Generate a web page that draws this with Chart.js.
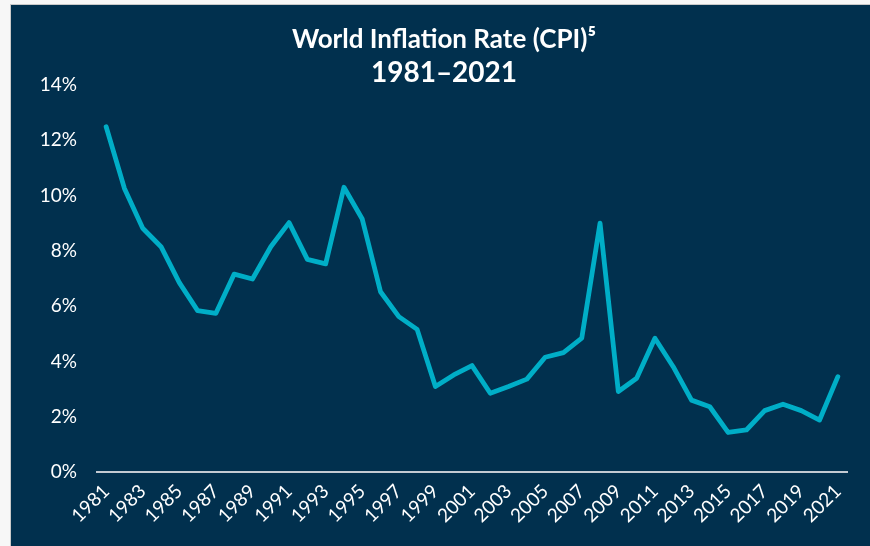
<!DOCTYPE html>
<html>
<head>
<meta charset="utf-8">
<script src="https://cdn.jsdelivr.net/npm/chart.js@4/dist/chart.umd.min.js"></script>
<style>
  html, body { margin: 0; padding: 0; background: #f7f7f7; }
  #wrap {
    position: absolute; left: 10px; top: 4px;
    border-left: 1px solid #c9c9c9; border-top: 1px solid #c9c9c9;
    width: 859px; height: 541px; background: #01304e;
  }
  canvas { display: block; }
</style>
</head>
<body>
<div id="wrap"><canvas id="c" width="859" height="541"></canvas></div>
<script>
const years = ["1981","1982","1983","1984","1985","1986","1987","1988","1989","1990",
  "1991","1992","1993","1994","1995","1996","1997","1998","1999","2000",
  "2001","2002","2003","2004","2005","2006","2007","2008","2009","2010",
  "2011","2012","2013","2014","2015","2016","2017","2018","2019","2020","2021"];
const inflation = [12.49, 10.26, 8.82, 8.15, 6.85, 5.84, 5.74, 7.16, 6.98, 8.15,
  9.02, 7.69, 7.53, 10.30, 9.15, 6.52, 5.62, 5.16, 3.09, 3.51,
  3.85, 2.85, 3.09, 3.36, 4.15, 4.32, 4.84, 9.00, 2.91, 3.39,
  4.84, 3.81, 2.60, 2.36, 1.43, 1.52, 2.22, 2.45, 2.22, 1.88, 3.45];
const yTicks = [0, 2, 4, 6, 8, 10, 12, 14];
const titleText = "World Inflation Rate (CPI)\u2075";
const subtitleText = "1981\u20132021";

new Chart(document.getElementById('c'), {
  type: 'line',
  data: {
    labels: years,
    datasets: [{
      label: 'World inflation',
      data: inflation,
      borderColor: '#00aec7',
      borderWidth: 4.8,
      borderCapStyle: 'round',
      borderJoinStyle: 'round',
      pointRadius: 0,
      tension: 0,
      fill: false
    }]
  },
  options: {
    responsive: false,
    animation: false,
    devicePixelRatio: 1,
    layout: { padding: { left: 30, right: 23, top: 0, bottom: 0 } },
    plugins: {
      legend: { display: false },
      tooltip: { enabled: false },
      title: {
        display: true, text: titleText, color: '#ffffff',
        font: { family: 'Lato', size: 26, weight: 'bold', lineHeight: 1.2 },
        padding: { top: 18.9, bottom: 1.4 }
      },
      subtitle: {
        display: true, text: subtitleText, color: '#ffffff',
        font: { family: 'Lato', size: 28, weight: 'bold', lineHeight: 1.2 },
        padding: { top: 0, bottom: -5.1 }
      }
    },
    scales: {
      x: {
        offset: true,
        grid: { display: false, drawTicks: false },
        border: { display: true, color: '#c3cad2', width: 2 },
        ticks: {
          color: '#ffffff', autoSkip: false, minRotation: 45, maxRotation: 45, padding: 8,
          font: { family: 'Lato', size: 19 },
          callback: function(v, i) { return i % 2 === 0 ? years[i] : ''; }
        },
        afterFit: function(s) { s.height = 74; }
      },
      y: {
        min: 0, max: 14,
        grid: { display: false, drawTicks: false },
        border: { display: false },
        afterBuildTicks: function(s) { s.ticks = yTicks.map(v => ({ value: v })); },
        ticks: {
          color: '#ffffff', padding: 20,
          font: { family: 'Lato', size: 19 },
          callback: function(v) { return v + '%'; }
        },
        afterFit: function(s) { s.width = 56; }
      }
    }
  }
});
</script>
</body>
</html>
